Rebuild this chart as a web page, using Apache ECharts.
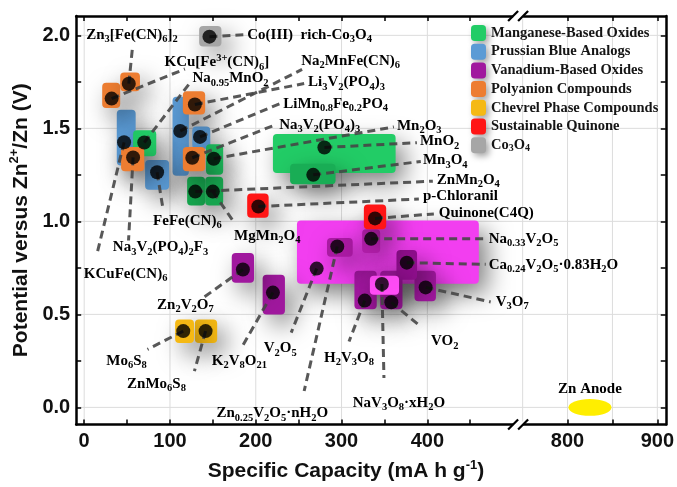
<!DOCTYPE html>
<html><head><meta charset="utf-8">
<script src="https://cdn.jsdelivr.net/npm/echarts@6/dist/echarts.min.js"></script>
<style>html,body{margin:0;padding:0;background:#fff}#c{width:677px;height:487px}</style>
</head><body><div id="c"></div>
<script>
// ---------------- data ----------------
const categories = ['Manganese-Based Oxides','Prussian Blue Analogs','Vanadium-Based Oxides','Polyanion Compounds','Chevrel Phase Compounds','Sustainable Quinone','Co_3O_4'];
const materials = ['KCu[Fe^{3+}(CN)_6]','Zn_3[Fe(CN)_6]_2','KCuFe(CN)_6','Na_{0.95}MnO_2','Na_3V_2(PO_4)_2F_3','FeFe(CN)_6','Na_2MnFe(CN)_6','Li_3V_2(PO_4)_3','LiMn_{0.8}Fe_{0.2}PO_4','Na_3V_2(PO_4)_3','Mn_2O_3','ZnMn_2O_4','MgMn_2O_4','Co(III)  rich-Co_3O_4','p-Chloranil','Quinone(C4Q)','MnO_2','Mn_3O_4','V_2O_5','Zn_{0.25}V_2O_5·nH_2O','Na_{0.33}V_2O_5','Ca_{0.24}V_2O_5·0.83H_2O','NaV_3O_8·xH_2O','H_2V_3O_8','VO_2','V_3O_7','Zn_2V_2O_7','K_2V_8O_{21}','Mo_6S_8','ZnMo_6S_8','Zn Anode'];
const family   = [3,3,1,0,3,1,1,3,1,3,0,0,0,6,5,5,0,0,2,2,2,2,2,2,2,2,2,2,4,4,-1];
const capacity = [32,52,46.5,70,57,85,112,129,135,126,151,129.5,150,146,203,339,280,267,271,295,334.5,376,347,327,358,398,185,220,115.5,141.5,825];
const voltage  = [1.66,1.74,1.425,1.424,1.344,1.264,1.486,1.628,1.454,1.342,1.337,1.16,1.16,1.993,1.08,1.016,1.397,1.25,0.746,0.865,0.906,0.778,0.663,0.574,0.565,0.645,0.741,0.617,0.41,0.41,0];
const capLow   = [21,42,38,57,43,71,103,115,126,115,142,120,141,134,190,326,220,240,248,283,324,364,333,315,345,385,172,208,106,129,801];
const capHigh  = [42,65,60,84,70,99,122,141,147,141,162,141,162,160,215,352,363,293,460,313,345,388,367,341,371,410,198,234,128,155,849];
const vLow     = [1.61,1.70,1.30,1.35,1.27,1.17,1.245,1.575,1.39,1.27,1.25,1.085,1.085,1.94,1.02,0.957,1.26,1.20,0.665,0.81,0.83,0.686,0.606,0.527,0.527,0.57,0.67,0.50,0.346,0.346,-0.045];
const vHigh    = [1.745,1.80,1.60,1.49,1.40,1.33,1.67,1.70,1.51,1.40,1.415,1.24,1.24,2.05,1.15,1.09,1.47,1.31,1.005,0.91,0.957,0.846,0.707,0.734,0.734,0.734,0.83,0.713,0.473,0.473,0.045];
const xTickLabels = [0,100,200,300,400,800,900];
const yTickLabels = [0,0.5,1.0,1.5,2.0];

// ---------------- annotation layout (label anchors, in data units) ----------------
const leaderEndCap = [117.4,56.4,14.5,122.7,51.7,91.3,254,256.4,229.7,222.7,361,406.4,175,185.5,390.1,407.6,387.8,392.4,241.3,256.4,468,468,349.4,308.7,392.4,473.8,140.1,184.3,73.8,128.5,null];
const leaderEndV   = [1.819,1.939,0.817,1.741,0.897,1.083,1.817,1.741,1.636,1.519,1.508,1.216,0.993,2.003,1.12,1.04,1.423,1.322,0.402,0.088,0.907,0.769,0.158,0.354,0.434,0.567,0.594,0.328,0.312,0.195,null];
const labelCap     = [93.6,55.8,48.3,126.2,89,120.3,252.9,261,232,227.3,364.5,411,213.4,190.1,394.8,413.4,391.3,394.8,228.5,219.2,471.5,471.5,366.9,308.7,420.3,479.7,118,180.8,49.4,84.3,825];
const labelV       = [1.854,2.003,0.716,1.769,0.860,1.003,1.864,1.747,1.630,1.519,1.513,1.221,0.923,2.003,1.136,1.046,1.429,1.328,0.317,-0.033,0.907,0.764,0.025,0.264,0.355,0.567,0.551,0.248,0.248,0.126,0.099];
const labelAlign   = ['left','center','center','left','center','center','left','left','left','left','left','left','center','left','left','left','left','left','center','center','left','left','center','center','center','left','center','center','center','center','center'];

// ---------------- broken x axis mapping ----------------
const RIGHT_START = 563.4, RIGHT_SCALE = 1.0465, BREAK_V = 505.8;
const X_MIN = -9.3, X_MAX = 677.9, Y_MIN = -0.092, Y_MAX = 2.104;
function tx(x){ return x <= 600 ? x : RIGHT_START + (x - 800) * RIGHT_SCALE; }
function inv(v){ return v <= BREAK_V ? Math.round(v) : Math.round(800 + (v - RIGHT_START) / RIGHT_SCALE); }

// ---------------- styles ----------------
const SERIF = 'Liberation Serif', SANS = 'Liberation Sans';
const famColor = ['#22cc66','#5b9bd5','#a0189e','#ed7d31','#f5b914','#ff1515','#a6a6a6'];
const shade = {
  'Mn_2O_3':'#1db95b','ZnMn_2O_4':'#17a64f','MgMn_2O_4':'#17a64f','Mn_3O_4':'#19ad55',
  'V_2O_5':'#f23ef0','NaV_3O_8·xH_2O':'#ff4cf6','Ca_{0.24}V_2O_5·0.83H_2O':'#8e0f8c',
  'Na_{0.33}V_2O_5':'#b21eaa','Zn_{0.25}V_2O_5·nH_2O':'#a91aa2'
};
function boxColor(i){ return shade[materials[i]] || famColor[family[i]]; }
const TXT = '#151515';
const RICH = {
  n:{fontFamily:SERIF,fontWeight:'bold',fontSize:15,lineHeight:20,color:TXT},
  s:{fontFamily:SERIF,fontWeight:'bold',fontSize:10.5,lineHeight:10,verticalAlign:'bottom',color:TXT},
  p:{fontFamily:SERIF,fontWeight:'bold',fontSize:10.5,lineHeight:10,verticalAlign:'top',color:TXT}
};
const LEG_RICH = {
  n:{fontFamily:SERIF,fontWeight:'bold',fontSize:14.5,lineHeight:16,color:TXT},
  s:{fontFamily:SERIF,fontWeight:'bold',fontSize:10,lineHeight:8,verticalAlign:'bottom',color:TXT},
  p:{fontFamily:SERIF,fontWeight:'bold',fontSize:10,lineHeight:8,verticalAlign:'top',color:TXT}
};
const NAME_RICH = {
  n:{fontFamily:SANS,fontWeight:'bold',fontSize:21,lineHeight:26,color:'#111'},
  p:{fontFamily:SANS,fontWeight:'bold',fontSize:13,lineHeight:12,verticalAlign:'top',color:'#111'},
  s:{fontFamily:SANS,fontWeight:'bold',fontSize:13,lineHeight:12,verticalAlign:'bottom',color:'#111'}
};
function toRich(s){
  let out='', buf='', i=0;
  const flush=()=>{ if(buf){ out+='{n|'+buf+'}'; buf=''; } };
  while(i<s.length){
    const c=s[i];
    if(c==='_'||c==='^'){
      flush(); let t;
      if(s[i+1]==='{'){ const j=s.indexOf('}',i+2); t=s.slice(i+2,j); i=j+1; }
      else { t=s[i+1]; i+=2; }
      out+='{'+(c==='_'?'s':'p')+'|'+t+'}';
    } else { buf+=c; i++; }
  }
  flush(); return out;
}

// ---------------- series ----------------
const idx = materials.map((_,i)=>i);
const SHADOW = {shadowBlur:24, shadowOffsetX:8, shadowOffsetY:10, shadowColor:'rgba(0,0,0,0.5)'};
function renderBox(params, api){
  const a = api.coord([api.value(0), api.value(3)]);
  const b = api.coord([api.value(1), api.value(2)]);
  const i = api.value(4);
  return {type:'rect', shape:{x:a[0], y:a[1], width:b[0]-a[0], height:b[1]-a[1], r:4},
          style:Object.assign({fill:boxColor(i)}, SHADOW)};
}
const seriesOrder = [2,1,0,3,4,5,6];
const boxSeries = seriesOrder.map(f => ({
  type:'custom', name:categories[f], z:2, itemStyle:{color:famColor[f]},
  encode:{x:[0,1], y:[2,3]}, renderItem:renderBox,
  data: idx.filter(i=>family[i]===f)
           .sort((p,q)=>(capHigh[q]-capLow[q])*(vHigh[q]-vLow[q])-(capHigh[p]-capLow[p])*(vHigh[p]-vLow[p]))
           .map(i=>[tx(capLow[i]),tx(capHigh[i]),vLow[i],vHigh[i],i])
}));

const anodeSeries = {
  type:'custom', name:'anode', z:2, encode:{x:[0,1], y:[2,3]},
  renderItem:(params, api)=>{
    const a = api.coord([api.value(0), api.value(3)]);
    const b = api.coord([api.value(1), api.value(2)]);
    return {type:'ellipse', shape:{cx:(a[0]+b[0])/2, cy:(a[1]+b[1])/2, rx:(b[0]-a[0])/2, ry:(b[1]-a[1])/2},
            style:{fill:'#ffee00'}};
  },
  data: idx.filter(i=>family[i]<0).map(i=>[tx(capLow[i]),tx(capHigh[i]),vLow[i],vHigh[i]])
};

const gridSeries = {
  type:'custom', z:0, silent:true,
  renderItem:(params, api)=>{
    const kind = api.value(0), v = api.value(1);
    let a, b;
    if(kind===0){ a = api.coord([v, Y_MIN]); b = api.coord([v, Y_MAX]); }
    else { a = api.coord([X_MIN, v]); b = api.coord([X_MAX, v]); }
    return {type:'line', shape:{x1:a[0],y1:a[1],x2:b[0],y2:b[1]}, style:{stroke:'#dcdcdc', lineWidth:1}};
  },
  data: [0,100,200,300,400,750,800,850,900].map(x=>[0,tx(x)]).concat(yTickLabels.map(y=>[1,y]))
};

const leaderSeries = {
  type:'custom', z:3, silent:true,
  renderItem:(params, api)=>{
    const a = api.coord([api.value(0), api.value(1)]);
    const b = api.coord([api.value(2), api.value(3)]);
    return {type:'line', shape:{x1:a[0],y1:a[1],x2:b[0],y2:b[1]},
            style:{stroke:'rgba(70,70,70,0.9)', lineWidth:3, lineDash:[8,5]}};
  },
  data: idx.filter(i=>leaderEndCap[i]!==null).map(i=>[tx(capacity[i]),voltage[i],tx(leaderEndCap[i]),leaderEndV[i]])
};

const dotSeries = {
  type:'scatter', z:4, symbol:'circle', symbolSize:14, itemStyle:{color:'#000'},
  data: idx.filter(i=>family[i]>=0).map(i=>[tx(capacity[i]), voltage[i]])
};

const labelSeries = {
  type:'custom', z:5, silent:true,
  renderItem:(params, api)=>{
    const i = api.value(2);
    const p = api.coord([api.value(0), api.value(1)]);
    return {type:'text', x:p[0], y:p[1],
            style:{text:toRich(materials[i]), rich:RICH, align:labelAlign[i], verticalAlign:'middle'}};
  },
  data: idx.map(i=>[tx(labelCap[i]), labelV[i], i])
};

const xTicks = [0,50,100,150,200,250,300,350,400,450,800,850,900].map(tx);
const yTicks = [0,0.25,0.5,0.75,1,1.25,1.5,1.75,2];
const AXLINE = {onZero:false, lineStyle:{color:'#000', width:2.5}};
const TICK = (vals)=>({inside:true, length:5, customValues:vals, lineStyle:{color:'#000', width:1.5}});
const LBL = {fontFamily:SANS, fontWeight:'bold', fontSize:20, color:'#111'};

const option = {
  animation:false,
  backgroundColor:'#fff',
  grid:{left:76, right:10, top:16, bottom:58},
  legend:{
    data: [0,1,2,3,4,5,6].map(f=>categories[f]),
    orient:'vertical', left:466, top:20, itemWidth:15, itemHeight:16, itemGap:2.7,
    icon:'roundRect', selectedMode:false,
    formatter:n=>toRich(n), textStyle:{rich:LEG_RICH},
    itemStyle:{shadowBlur:6, shadowOffsetX:3, shadowOffsetY:3, shadowColor:'rgba(0,0,0,0.35)'}
  },
  xAxis:[
    {type:'value', min:X_MIN, max:X_MAX, position:'bottom', axisLine:AXLINE, axisTick:TICK(xTicks),
     axisLabel:Object.assign({customValues:xTickLabels.map(tx), formatter:v=>String(inv(v)), margin:7}, LBL),
     splitLine:{show:false}, name:toRich('Specific Capacity (mA h g^{-1})'), nameLocation:'middle', nameGap:34,
     nameTextStyle:{rich:NAME_RICH, padding:[0,50,0,0]}},
    {type:'value', min:X_MIN, max:X_MAX, position:'top', axisLine:AXLINE, axisTick:TICK(xTicks),
     axisLabel:{show:false}, splitLine:{show:false}}
  ],
  yAxis:[
    {type:'value', min:Y_MIN, max:Y_MAX, position:'left', axisLine:AXLINE, axisTick:TICK(yTicks),
     axisLabel:Object.assign({customValues:yTickLabels, formatter:v=>v.toFixed(1), margin:6}, LBL),
     splitLine:{show:false}, name:toRich('Potential versus Zn^{2+}/Zn (V)'), nameLocation:'middle', nameGap:42,
     nameTextStyle:{rich:NAME_RICH}},
    {type:'value', min:Y_MIN, max:Y_MAX, position:'right', axisLine:AXLINE, axisTick:TICK(yTicks),
     axisLabel:{show:false}, splitLine:{show:false}}
  ],
  series:[gridSeries].concat(boxSeries, [anodeSeries, leaderSeries, dotSeries, labelSeries])
};

const chart = echarts.init(document.getElementById('c'));
chart.setOption(option);

// axis break marks
const bx = chart.convertToPixel({xAxisIndex:0}, BREAK_V);
const yb = chart.convertToPixel({yAxisIndex:0}, Y_MIN);
const yt = chart.convertToPixel({yAxisIndex:0}, Y_MAX);
function breakMark(ay){
  return [
    {type:'rect', shape:{x:bx-5, y:ay-3, width:10, height:6}, style:{fill:'#fff'}, z:100},
    {type:'line', shape:{x1:bx-10, y1:ay+5, x2:bx, y2:ay-5}, style:{stroke:'#000', lineWidth:2.2}, z:101},
    {type:'line', shape:{x1:bx, y1:ay+5, x2:bx+10, y2:ay-5}, style:{stroke:'#000', lineWidth:2.2}, z:101}
  ];
}
chart.setOption({graphic: breakMark(yb).concat(breakMark(yt))});
</script></body></html>
